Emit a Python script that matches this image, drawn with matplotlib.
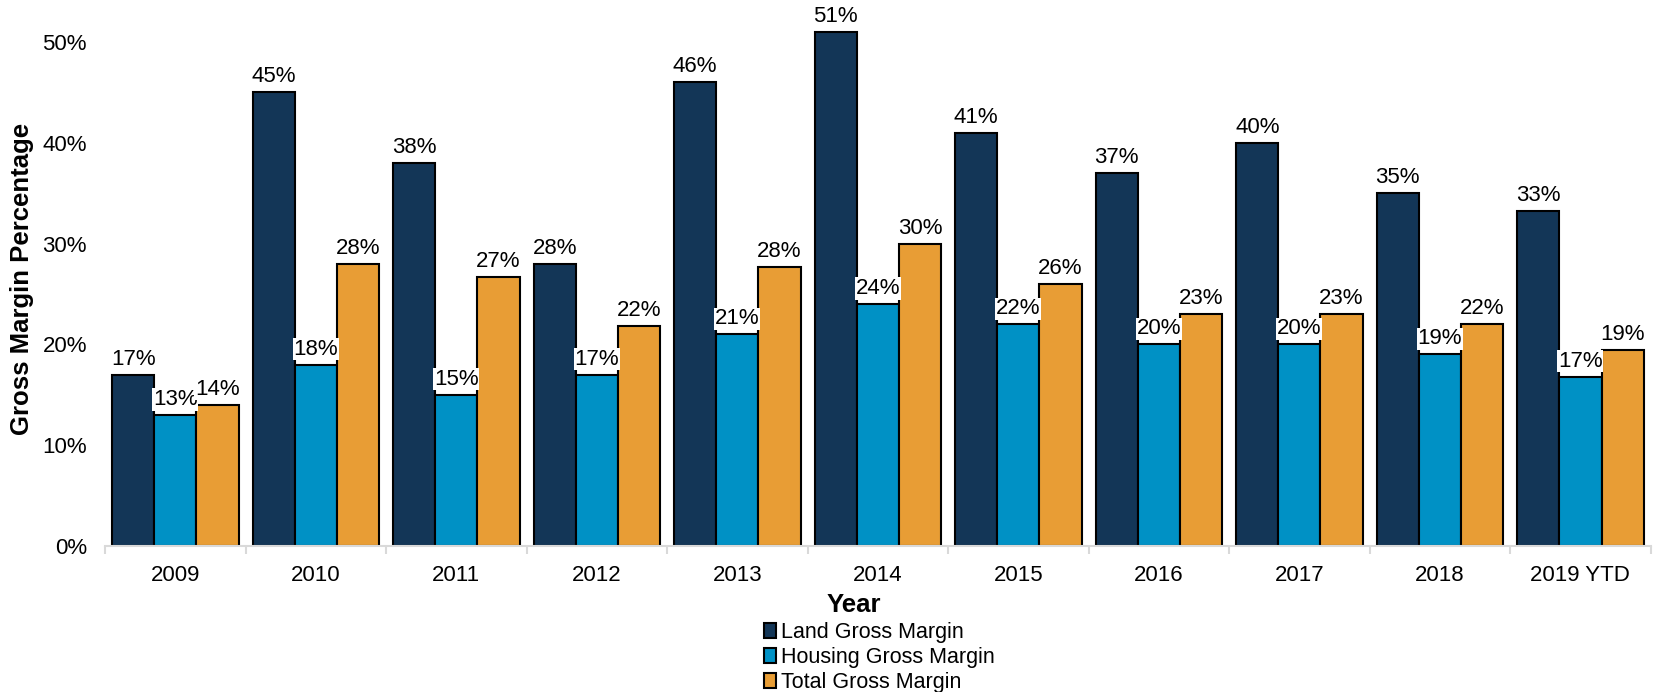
import numpy as np
import matplotlib.pyplot as plt
from matplotlib.patches import Patch

plt.rcParams['font.family'] = ['Liberation Sans', 'DejaVu Sans']

# data (percent)
years = ["2009", "2010", "2011", "2012", "2013", "2014", "2015", "2016", "2017", "2018", "2019 YTD"]
land = [17, 45, 38, 28, 46, 51, 41, 37, 40, 35, 33.2]
housing = [13, 18, 15, 17, 21, 24, 22, 20, 20, 19, 16.8]
total = [14, 28, 26.7, 21.8, 27.7, 30, 26, 23, 23, 22, 19.4]
series_names = ["Land Gross Margin", "Housing Gross Margin", "Total Gross Margin"]
colors = ["#133657", "#0091C5", "#E89D35"]

fig = plt.figure(figsize=(16.54, 6.92), dpi=100)
ax = fig.add_axes([0.0635, 0.211, 0.9345, 0.772])

x = np.arange(len(years))
w = 0.3
for k, (vals, col) in enumerate(zip([land, housing, total], colors)):
    pos = x + (k - 1) * w
    bars = ax.bar(pos, vals, width=w, color=col, edgecolor="black", linewidth=1.5, zorder=2)
    for b, v in zip(bars, vals):
        ax.text(b.get_x() + b.get_width() / 2, v + 0.5, f"{v:.0f}%", ha="center", va="bottom",
                fontsize=16, zorder=3,
                bbox=dict(facecolor="white", edgecolor="none", pad=0.5))

ax.set_xlim(-0.5, len(years) - 0.5)
ax.set_ylim(0, 53)
ax.set_yticks(np.arange(0, 51, 10))
ax.set_yticklabels([f"{t}%" for t in range(0, 51, 10)], fontsize=16)
ax.set_xticks(x)
ax.set_xticklabels(years, fontsize=16)
ax.set_xticks(np.arange(-0.5, len(years), 1), minor=True)
ax.tick_params(axis="x", which="major", length=0, pad=14)
ax.tick_params(axis="x", which="minor", length=6, color="#D9D9D9", width=1.5)
ax.tick_params(axis="y", length=0, pad=13)

for s in ["top", "right", "left"]:
    ax.spines[s].set_visible(False)
ax.spines["bottom"].set_color("#D9D9D9")
ax.spines["bottom"].set_linewidth(1.5)

ax.set_ylabel("Gross Margin Percentage", fontsize=18.5, fontweight="bold")
ax.yaxis.set_label_coords(-0.046, 0.5)
fig.text(0.516, 0.125, "Year", ha="center", va="center", fontsize=18.5, fontweight="bold")

handles = [Patch(facecolor=c, edgecolor="black", linewidth=1.5) for c in colors]
fig.legend(handles, series_names, loc="upper left", bbox_to_anchor=(0.462, 0.101),
           frameon=False, fontsize=15.5, handlelength=0.55, handleheight=0.7,
           handletextpad=0.25, labelspacing=0.18, borderpad=0, borderaxespad=0)

fig.savefig("out.png", dpi=100)
